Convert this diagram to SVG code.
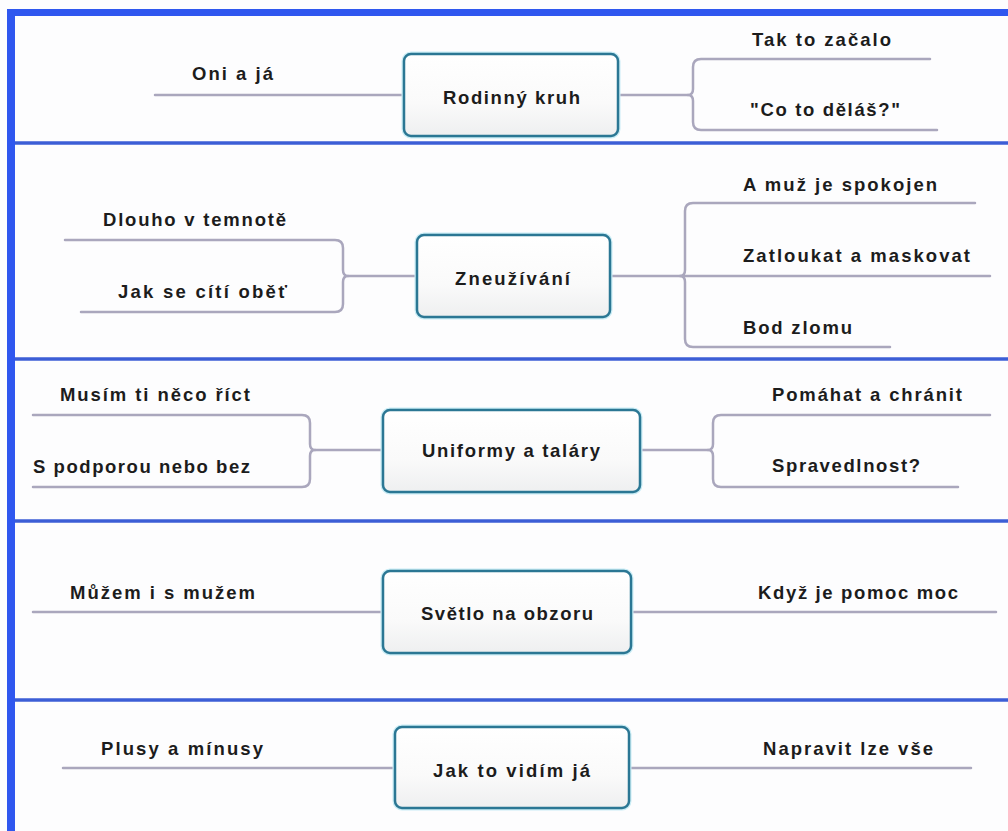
<svg xmlns="http://www.w3.org/2000/svg" width="1008" height="831" viewBox="0 0 1008 831">
<defs>
<linearGradient id="boxfill" x1="0" y1="0" x2="0" y2="1">
<stop offset="0" stop-color="#ffffff"/>
<stop offset="0.6" stop-color="#fafafa"/>
<stop offset="1" stop-color="#eeeff0"/>
</linearGradient>
<style>
.frame{fill:#2f57ef}
.sep{stroke:#3c5ed6;stroke-width:3.5;fill:none}
.conn{stroke:#aaa7bd;stroke-width:2.5;fill:none;stroke-linecap:round;stroke-linejoin:round}
.glow{fill:none;stroke:#c9ecf5;stroke-width:5}
.box{fill:url(#boxfill);stroke:#2b7794;stroke-width:2.5}
.t{font-family:"Liberation Sans",Arial,sans-serif;font-weight:bold;font-size:18.5px;fill:#1c1c1c}
</style>
</defs>
<rect x="0" y="0" width="1008" height="831" fill="#fdfdfe"/>
<g id="frame">
<rect class="frame" x="7" y="9" width="1001" height="7"/>
<rect class="frame" x="7" y="9" width="8" height="822"/>
<line class="sep" x1="15" y1="143" x2="1008" y2="143"/>
<line class="sep" x1="15" y1="359" x2="1008" y2="359"/>
<line class="sep" x1="15" y1="521" x2="1008" y2="521"/>
<line class="sep" x1="15" y1="700" x2="1008" y2="700"/>
</g>
<g id="connectors">
<path class="conn" d="M155 95 H404"/>
<path class="conn" d="M618 95 H688"/>
<path class="conn" d="M930 59 H701 Q693 59 693 67 V89 Q693 95 688 95 Q693 95 693 101 V122 Q693 130 701 130 H937"/>
<path class="conn" d="M417 276 H348"/>
<path class="conn" d="M65 240 H335 Q343 240 343 248 V270 Q343 276 348 276 Q343 276 343 282 V304 Q343 312 335 312 H81"/>
<path class="conn" d="M610 276 H990"/>
<path class="conn" d="M975 203 H693 Q685 203 685 211 V270 Q685 276 680 276 Q685 276 685 282 V339 Q685 347 693 347 H890"/>
<path class="conn" d="M383 450 H315"/>
<path class="conn" d="M33 415 H302 Q310 415 310 423 V444 Q310 450 315 450 Q310 450 310 456 V479 Q310 487 302 487 H33"/>
<path class="conn" d="M640 450 H708"/>
<path class="conn" d="M990 415 H721 Q713 415 713 423 V444 Q713 450 708 450 Q713 450 713 456 V479 Q713 487 721 487 H958"/>
<path class="conn" d="M33 612 H383"/>
<path class="conn" d="M631 612 H996"/>
<path class="conn" d="M63 768 H395"/>
<path class="conn" d="M629 768 H971"/>
</g>
<g id="node-rodinny-kruh">
<rect class="glow" x="404" y="54" width="214" height="82" rx="7"/>
<rect class="box" x="404" y="54" width="214" height="82" rx="7"/>
<text class="t" x="443" y="104" textLength="137" lengthAdjust="spacing">Rodinný kruh</text>
</g>
<g id="node-oni-a-ja"><text class="t" x="192" y="80" textLength="81" lengthAdjust="spacing">Oni a já</text></g>
<g id="node-tak-to-zacalo"><text class="t" x="752" y="46" textLength="139" lengthAdjust="spacing">Tak to začalo</text></g>
<g id="node-co-to-delas"><text class="t" x="750" y="116" textLength="150" lengthAdjust="spacing">"Co to děláš?"</text></g>

<g id="node-zneuzivani">
<rect class="glow" x="417" y="235" width="193" height="82" rx="7"/>
<rect class="box" x="417" y="235" width="193" height="82" rx="7"/>
<text class="t" x="455" y="285" textLength="115" lengthAdjust="spacing">Zneužívání</text>
</g>
<g id="node-dlouho"><text class="t" x="103" y="226" textLength="183" lengthAdjust="spacing">Dlouho v temnotě</text></g>
<g id="node-jak-se-citi"><text class="t" x="118" y="298" textLength="169" lengthAdjust="spacing">Jak se cítí oběť</text></g>
<g id="node-a-muz"><text class="t" x="743" y="191" textLength="194" lengthAdjust="spacing">A muž je spokojen</text></g>
<g id="node-zatloukat"><text class="t" x="743" y="262" textLength="227" lengthAdjust="spacing">Zatloukat a maskovat</text></g>
<g id="node-bod-zlomu"><text class="t" x="743" y="334" textLength="109" lengthAdjust="spacing">Bod zlomu</text></g>

<g id="node-uniformy">
<rect class="glow" x="383" y="410" width="257" height="82" rx="7"/>
<rect class="box" x="383" y="410" width="257" height="82" rx="7"/>
<text class="t" x="422" y="457" textLength="178" lengthAdjust="spacing">Uniformy a taláry</text>
</g>
<g id="node-musim"><text class="t" x="60" y="401" textLength="190" lengthAdjust="spacing">Musím ti něco říct</text></g>
<g id="node-s-podporou"><text class="t" x="33" y="473" textLength="217" lengthAdjust="spacing">S podporou nebo bez</text></g>
<g id="node-pomahat"><text class="t" x="772" y="401" textLength="190" lengthAdjust="spacing">Pomáhat a chránit</text></g>
<g id="node-spravedlnost"><text class="t" x="772" y="472" textLength="148" lengthAdjust="spacing">Spravedlnost?</text></g>

<g id="node-svetlo">
<rect class="glow" x="383" y="571" width="248" height="82" rx="7"/>
<rect class="box" x="383" y="571" width="248" height="82" rx="7"/>
<text class="t" x="421" y="620" textLength="172" lengthAdjust="spacing">Světlo na obzoru</text>
</g>
<g id="node-muzem"><text class="t" x="70" y="599" textLength="185" lengthAdjust="spacing">Můžem i s mužem</text></g>
<g id="node-kdyz"><text class="t" x="758" y="599" textLength="200" lengthAdjust="spacing">Když je pomoc moc</text></g>

<g id="node-jak-to-vidim">
<rect class="glow" x="395" y="727" width="234" height="81" rx="7"/>
<rect class="box" x="395" y="727" width="234" height="81" rx="7"/>
<text class="t" x="433" y="777" textLength="157" lengthAdjust="spacing">Jak to vidím já</text>
</g>
<g id="node-plusy"><text class="t" x="101" y="755" textLength="162" lengthAdjust="spacing">Plusy a mínusy</text></g>
<g id="node-napravit"><text class="t" x="763" y="755" textLength="170" lengthAdjust="spacing">Napravit lze vše</text></g>
</svg>
